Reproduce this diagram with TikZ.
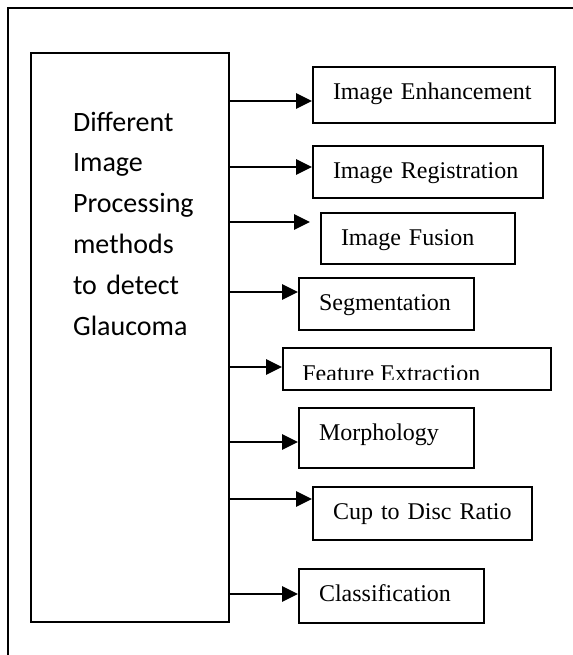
\documentclass[tikz,border=0pt]{standalone}
\usepackage{fontspec}
\setmainfont{Liberation Serif}
\newfontfamily\carlito{Carlito}
\usetikzlibrary{arrows.meta}
\begin{document}
\begin{tikzpicture}[x=0.5pt,y=-0.5pt,
 method/.style={draw,line width=1pt,anchor=north west,inner xsep=10pt,inner ysep=0pt,text height=16pt,align=left,font=\fontsize{12}{14}\selectfont},
 link/.style={line width=1.35pt,-{Triangle[length=8pt,width=7.5pt]}}]
 \useasboundingbox (0,0) rectangle (573,655);
 \clip (0,0) rectangle (573,655);
 \draw[line width=1pt](585,8)--(8,8)--(8,665);
 \node[draw,line width=0.75pt,anchor=north west,inner sep=0pt,minimum width=99pt,minimum height=284.5pt] (methods) at (30,52) {};
 \node[anchor=base west,align=left,inner sep=0pt,text width=90pt,font=\carlito\fontsize{14}{20.4}\selectfont] (title) at (72.7,131) {Different\\Image\\Processing\\methods\\to detect\\Glaucoma};
 \node[method,text width=101pt,text depth=12pt] (enh) at (312,66) {Image Enhancement};
 \node[method,text width=95pt,text depth=10pt] (reg) at (312,145) {Image Registration};
 \node[method,text width=77pt,text depth=9.5pt] (fus) at (320,212) {Image Fusion};
 \node[method,text width=67.5pt,text depth=10pt] (seg) at (298,277) {Segmentation};
 \node[method,text width=114pt,text depth=5pt] (feat) at (282,347) {};
 \begin{scope}
  \clip (feat.north west) rectangle (550,379);
  \node[anchor=base west,inner sep=0pt,font=\fontsize{12}{14}\selectfont] (feattext) at (302,381) {Feature Extraction};
 \end{scope}
 \node[method,text width=67.5pt,text depth=14pt] (morph) at (298,407) {Morphology};
 \node[method,text width=89.5pt,text depth=10.5pt] (cdr) at (312,486) {Cup to Disc Ratio};
 \node[method,text width=72.5pt,text depth=11pt] (cls) at (298,568) {Classification};
 \draw[link](methods.east |- 0,101)--(enh.west |- 0,101);
 \draw[link](methods.east |- 0,167)--(reg.west |- 0,167);
 \draw[link,shorten >=5pt](methods.east |- 0,222)--(fus.west |- 0,222);
 \draw[link](methods.east |- 0,292)--(seg.west |- 0,292);
 \draw[link](methods.east |- 0,367)--(feat.west |- 0,367);
 \draw[link](methods.east |- 0,442)--(morph.west |- 0,442);
 \draw[link](methods.east |- 0,499)--(cdr.west |- 0,499);
 \draw[link](methods.east |- 0,594)--(cls.west |- 0,594);
\end{tikzpicture}
\end{document}
